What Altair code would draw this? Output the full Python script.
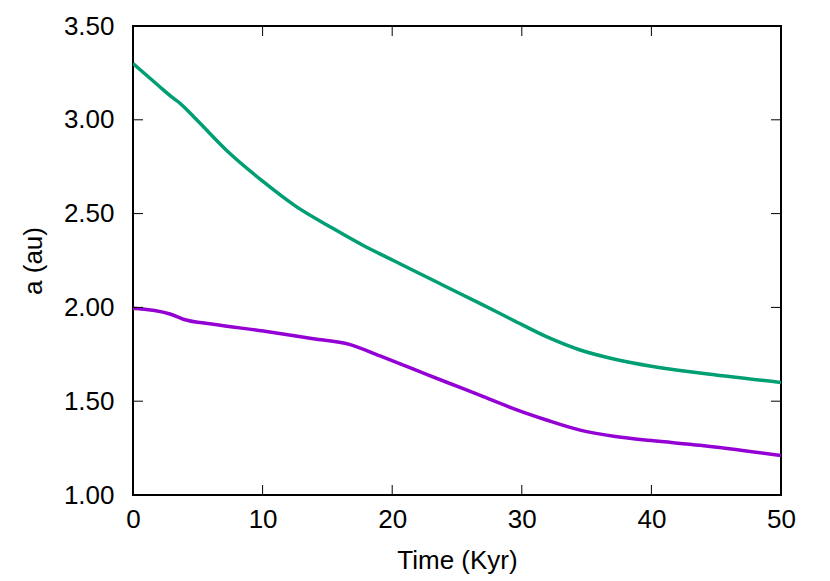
import altair as alt
import pandas as pd

# Data
t_green = [0, 1, 2, 3.11, 3.63, 4.91, 7.48, 10.05, 12.6, 15.2, 17.77, 19.8, 21.6, 24.2, 26.8, 29.3, 31.9, 34.5, 37.1, 40, 43.75, 50]
a_green = [3.30, 3.24, 3.18, 3.115, 3.088, 3.00, 2.82, 2.67, 2.537, 2.43, 2.33, 2.26, 2.198, 2.109, 2.02, 1.933, 1.844, 1.773, 1.725, 1.686, 1.65, 1.60]
t_purple = [0, 2.85, 3.88, 6.2, 10.05, 13.9, 16.7, 19.06, 21.6, 24.2, 26.8, 29.3, 31.9, 34.5, 37.1, 40, 43.75, 50]
a_purple = [1.995, 1.965, 1.937, 1.91, 1.874, 1.833, 1.803, 1.741, 1.672, 1.601, 1.531, 1.462, 1.40, 1.346, 1.313, 1.29, 1.265, 1.21]

x_ticks = [0, 10, 20, 30, 40, 50]
y_ticks = [1.0, 1.5, 2.0, 2.5, 3.0, 3.5]

W, H = 648, 469
TICK = 10
FONT = "Liberation Sans"
FS = 26

df = pd.concat([
    pd.DataFrame({"t": t_green, "a": a_green, "s": "green"}),
    pd.DataFrame({"t": t_purple, "a": a_purple, "s": "purple"}),
])

xs = alt.Scale(domain=[0, 50], nice=False, zero=False)
ys = alt.Scale(domain=[1.0, 3.5], nice=False, zero=False)

AX = alt.Axis(
    title="Time (Kyr)", values=x_ticks, format="d", tickSize=0, domain=False, grid=False,
    labelFlush=False, labelOverlap=False,
    labelFont=FONT, labelFontSize=FS, labelColor="black", labelPadding=11,
    titleFont=FONT, titleFontSize=FS, titleFontWeight="normal", titleColor="black", titlePadding=15)
AY = alt.Axis(
    title="a (au)", values=y_ticks, format=".2f", tickSize=0, domain=False, grid=False,
    labelFlush=False, labelOverlap=False,
    labelFont=FONT, labelFontSize=FS, labelColor="black", labelPadding=19,
    titleFont=FONT, titleFontSize=FS, titleFontWeight="normal", titleColor="black", titlePadding=17)

lines = alt.Chart(df).mark_line(strokeWidth=3.5, interpolate="monotone", clip=True).encode(
    x=alt.X("t:Q", scale=xs, axis=AX),
    y=alt.Y("a:Q", scale=ys, axis=AY),
    color=alt.Color("s:N", scale=alt.Scale(domain=["green", "purple"], range=["#009e73", "#9400d3"]), legend=None),
    detail="s:N",
)

xt = pd.DataFrame({"v": x_ticks[1:-1]})
yt = pd.DataFrame({"v": y_ticks[1:-1]})

xb = alt.Chart(xt).mark_rule(color="black", strokeWidth=1).encode(
    x=alt.X("v:Q", scale=xs, axis=AX), y=alt.value(H), y2=alt.value(H - TICK))
xtop = alt.Chart(xt).mark_rule(color="black", strokeWidth=1).encode(
    x=alt.X("v:Q", scale=xs, axis=AX), y=alt.value(0), y2=alt.value(TICK))
yl = alt.Chart(yt).mark_rule(color="black", strokeWidth=1).encode(
    y=alt.Y("v:Q", scale=ys, axis=AY), x=alt.value(0), x2=alt.value(TICK))
yr = alt.Chart(yt).mark_rule(color="black", strokeWidth=1).encode(
    y=alt.Y("v:Q", scale=ys, axis=AY), x=alt.value(W), x2=alt.value(W - TICK))

chart = alt.layer(lines, xb, xtop, yl, yr).properties(
    width=W, height=H,
    autosize=alt.AutoSizeParams(type="none"),
    padding={"left": 125, "top": 18, "right": 40, "bottom": 84},
    background="white",
).configure_view(stroke="black", strokeWidth=2)

chart.save("out.html", embed_options={"renderer": "svg", "actions": False})
